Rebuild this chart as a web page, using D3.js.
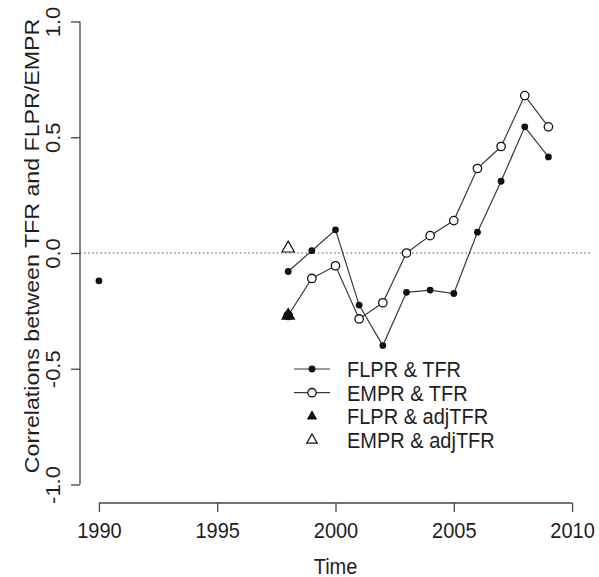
<!DOCTYPE html>
<html>
<head>
<meta charset="utf-8">
<script src="https://d3js.org/d3.v7.min.js"></script>
<style>
  html, body { margin: 0; padding: 0; background: #fff; }
  svg { display: block; font-family: "Liberation Sans", Arial, Helvetica, sans-serif; }
</style>
</head>
<body>
<svg id="chart" width="599" height="577"></svg>
<script>
// ---- data ----
const years      = [1990, 1991, 1992, 1993, 1994, 1995, 1996, 1997, 1998, 1999, 2000, 2001, 2002, 2003, 2004, 2005, 2006, 2007, 2008, 2009];
const flprTfr    = [-0.12, null, null, null, null, null, null, null, -0.08, 0.01, 0.10, -0.225, -0.40, -0.17, -0.16, -0.175, 0.09, 0.31, 0.545, 0.415];
const emprTfr    = [null, null, null, null, null, null, null, null, -0.27, -0.11, -0.055, -0.285, -0.215, 0.0, 0.075, 0.14, 0.365, 0.46, 0.68, 0.545];
const adjYears   = [1998];
const flprAdjTfr = [-0.27];
const emprAdjTfr = [0.02];
const xTicks     = [1990, 1995, 2000, 2005, 2010];
const yTicks     = [-1.0, -0.5, 0.0, 0.5, 1.0];
const yTickLabels = ["-1.0", "-0.5", "0.0", "0.5", "1.0"];
const legendLabels = ["FLPR & TFR", "EMPR & TFR", "FLPR & adjTFR", "EMPR & adjTFR"];
const xTitle = "Time";
const yTitle = "Correlations between TFR and FLPR/EMPR";

// ---- layout ----
const svg = d3.select("#chart");
const x = d3.scaleLinear().domain([1989.2, 2010.8]).range([80, 591]);
const y = d3.scaleLinear().domain([-1.08, 1.08]).range([503, 3]);
const FS = 20, STRETCH = 1.1;
const axisCol = "#444", textCol = "#1e1e1e", lineCol = "#3a3a3a", ptCol = "#111";
const FF = "Liberation Sans, Arial, sans-serif";

// reference line at 0
svg.append("line")
  .attr("x1", x.range()[0]).attr("x2", x.range()[1])
  .attr("y1", y(0)).attr("y2", y(0))
  .attr("stroke", "#8a8a8a").attr("stroke-width", 1.3)
  .attr("stroke-dasharray", "1.5,2.6");

// x axis
const gx = svg.append("g").attr("transform", `translate(0,${y.range()[0]})`)
  .call(d3.axisBottom(x).tickValues(xTicks).tickSize(9).tickSizeOuter(0).tickFormat(d3.format("d")));
gx.select(".domain").remove();
gx.append("line").attr("x1", x(xTicks[0])).attr("x2", x(xTicks[xTicks.length - 1]))
  .attr("stroke", axisCol).attr("stroke-width", 1.3);
gx.selectAll(".tick line").attr("stroke", axisCol).attr("stroke-width", 1.3);
gx.selectAll(".tick text")
  .attr("y", null).attr("dy", null)
  .attr("transform", `translate(0,35) scale(1,${STRETCH})`)
  .attr("fill", textCol).attr("font-size", FS).attr("font-family", FF)
  .attr("text-anchor", "middle");

// y axis
const gy = svg.append("g").attr("transform", `translate(${x.range()[0]},0)`)
  .call(d3.axisLeft(y).tickValues(yTicks).tickSize(9).tickSizeOuter(0).tickFormat((d, i) => yTickLabels[i]));
gy.select(".domain").remove();
gy.append("line").attr("y1", y(yTicks[0])).attr("y2", y(yTicks[yTicks.length - 1]))
  .attr("stroke", axisCol).attr("stroke-width", 1.3);
gy.selectAll(".tick line").attr("stroke", axisCol).attr("stroke-width", 1.3);
gy.selectAll(".tick text")
  .attr("x", null).attr("dy", null)
  .attr("transform", `translate(-20,0) scale(1,${STRETCH}) rotate(-90)`)
  .attr("fill", textCol).attr("font-size", FS).attr("font-family", FF)
  .attr("text-anchor", "middle");

// titles
svg.append("text")
  .attr("transform", `translate(${(x(xTicks[0]) + x(xTicks[4])) / 2},574) scale(1,${STRETCH})`)
  .attr("text-anchor", "middle").attr("font-size", FS).attr("fill", textCol).text(xTitle);
svg.append("text")
  .attr("transform", `translate(39,${y(0) - 7}) scale(1,1.16) rotate(-90)`)
  .attr("text-anchor", "middle").attr("font-size", FS).attr("fill", textCol).text(yTitle);

// series
const pts = (vals) => years.map((yr, i) => ({ yr, v: vals[i] })).filter(d => d.v !== null);
const line = d3.line().defined(d => d.v !== null).x(d => x(d.yr)).y(d => y(d.v));
const flprData = years.map((yr, i) => ({ yr, v: flprTfr[i] }));
const emprData = years.map((yr, i) => ({ yr, v: emprTfr[i] }));

svg.append("path").datum(flprData).attr("d", line)
  .attr("fill", "none").attr("stroke", lineCol).attr("stroke-width", 1.2);
svg.append("path").datum(emprData).attr("d", line)
  .attr("fill", "none").attr("stroke", lineCol).attr("stroke-width", 1.2);

svg.append("g").selectAll("circle").data(pts(flprTfr)).join("circle")
  .attr("cx", d => x(d.yr)).attr("cy", d => y(d.v)).attr("r", 3.4).attr("fill", ptCol);
svg.append("g").selectAll("circle").data(pts(emprTfr)).join("circle")
  .attr("cx", d => x(d.yr)).attr("cy", d => y(d.v)).attr("r", 4.2)
  .attr("fill", "#fff").attr("stroke", ptCol).attr("stroke-width", 1.3);

// triangles (centroid at the point)
const tri = (s) => { const r = s / Math.sqrt(3); return `M0,${-r}L${s / 2},${r / 2}L${-s / 2},${r / 2}Z`; };
svg.append("g").selectAll("path").data(adjYears.map((yr, i) => ({ yr, v: flprAdjTfr[i] }))).join("path")
  .attr("d", tri(14.5)).attr("transform", d => `translate(${x(d.yr)},${y(d.v)})`).attr("fill", ptCol);
svg.append("g").selectAll("path").data(adjYears.map((yr, i) => ({ yr, v: emprAdjTfr[i] }))).join("path")
  .attr("d", tri(12.5)).attr("transform", d => `translate(${x(d.yr)},${y(d.v)})`)
  .attr("fill", "#fff").attr("stroke", ptCol).attr("stroke-width", 1.2);

// legend
const lg = svg.append("g");
const rowY = (i) => 369 + i * 23.7;
legendLabels.forEach((lab, i) => {
  const cy = rowY(i);
  if (i < 2) {
    lg.append("line").attr("x1", 294).attr("x2", 330).attr("y1", cy).attr("y2", cy)
      .attr("stroke", lineCol).attr("stroke-width", 1.2);
  }
  if (i === 0) lg.append("circle").attr("cx", 312).attr("cy", cy).attr("r", 3.4).attr("fill", ptCol);
  if (i === 1) lg.append("circle").attr("cx", 312).attr("cy", cy).attr("r", 4.2).attr("fill", "#fff").attr("stroke", ptCol).attr("stroke-width", 1.3);
  if (i === 2) lg.append("path").attr("d", tri(10.5)).attr("transform", `translate(312,${cy})`).attr("fill", ptCol);
  if (i === 3) lg.append("path").attr("d", tri(10.5)).attr("transform", `translate(312,${cy})`).attr("fill", "#fff").attr("stroke", ptCol).attr("stroke-width", 1.2);
  lg.append("text").attr("transform", `translate(347,${cy + 7.8}) scale(1,${STRETCH})`)
    .attr("font-size", FS).attr("fill", textCol).text(lab);
});
</script>
</body>
</html>
